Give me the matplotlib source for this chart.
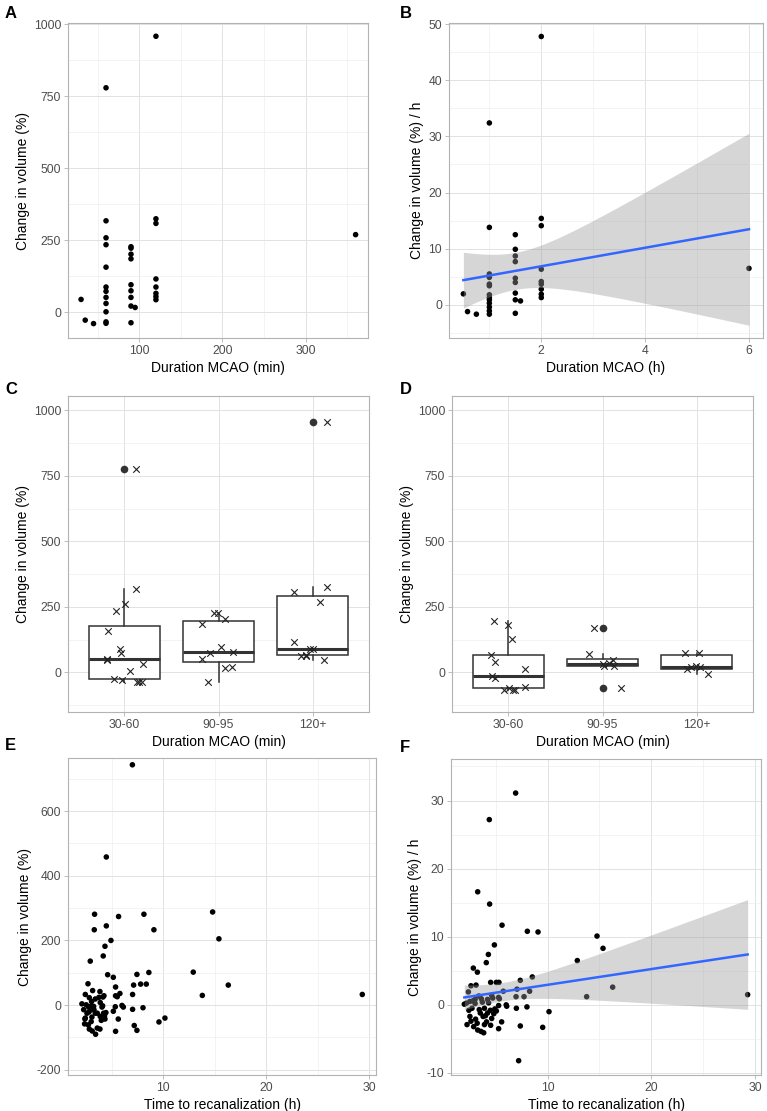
import numpy as np
import matplotlib
matplotlib.use("Agg")
import matplotlib.pyplot as plt
from matplotlib.ticker import MultipleLocator, FixedLocator

plt.rcParams['font.family'] = ['Liberation Sans', 'DejaVu Sans']
plt.rcParams['axes.unicode_minus'] = False

# ---- A: change in volume (%) vs duration MCAO (min)
dur_a = [30, 35, 45] + [60] * 12 + [90] * 9 + [95] + [120] * 8 + [360]
chg_a = [44, -28, -40,
         779, 317, 258, 234, 156, 87, 72, 51, 30, 1, -34, -39,
         227, 222, 201, 185, 95, 74, 51, 21, -37,
         16,
         958, 324, 308, 115, 87, 65, 54, 43,
         269]

# ---- B: change in volume (%) / h vs duration MCAO (h)
dur_b = [0.5, 0.58, 0.75] + [1.0] * 13 + [1.5] * 9 + [1.6] + [2.0] * 9 + [6.0]
chg_b = [1.96, -1.2, -1.66,
         32.4, 13.8, 5.5, 4.9, 3.7, 3.4, 1.8, 1.3, 0.9, 0.3, -0.4, -1.07, -1.66,
         12.5, 9.9, 8.7, 7.7, 4.75, 4.0, 2.1, 0.9, -1.5,
         0.7,
         47.8, 15.4, 14.1, 6.35, 4.15, 3.7, 2.8, 1.9, 1.3,
         6.5]

# ---- C / D: grouped boxplots
groups = ['30-60', '90-95', '120+']
c_values = [[777, 317, 259, 235, 158, 90, 74, 53, 46, 33, 4, -27, -28, -37, -36, -38],
            [228, 225, 202, 186, 97, 75, 77, 53, 16, 20, -36],
            [955, 326, 308, 270, 117, 89, 89, 61, 67, 46, 61]]
c_q1 = [-27, 38, 65]
c_med = [50, 77, 90]
c_q3 = [177, 195, 290]
c_lo = [-38, -36, 46]
c_hi = [317, 228, 324]
c_out = [[777], [], [955]]

d_values = [[196, 181, 127, 65, 39, 14, -14, -23, -57, -66, -66, -60, -68],
            [171, 69, 48, 36, 32, 23, 25, -58],
            [75, 75, 24, 22, 22, 14, -5]]
d_q1 = [-60, 24, 14]
d_med = [-15, 32, 22]
d_q3 = [65, 52, 65]
d_lo = [-68, 23, -5]
d_hi = [196, 69, 75]
d_out = [[], [171, -58], []]

# ---- E: change in volume (%) vs time to recanalization (h)
rec_e = [7.0, 4.47, 3.33, 3.30, 4.47, 5.66, 8.12, 9.09, 14.79, 15.4, 4.92, 4.34, 4.17, 2.91,
         4.6, 5.15, 7.44, 8.6, 12.91, 13.79, 16.31, 29.32, 7.12, 7.8, 8.35, 7.02, 5.37, 5.37,
         5.79, 5.53, 5.99, 6.12, 5.34, 5.15, 5.63, 5.37, 7.02, 8.03, 7.18, 7.44, 9.58, 10.16,
         2.69, 3.14, 3.85, 2.43, 4.14, 2.82, 3.4, 3.04, 3.88, 2.1, 2.52, 2.75, 3.24, 4.05,
         2.27, 3.07, 2.59, 3.4, 4.2, 2.43, 3.07, 3.88, 4.3, 4.43, 4.34, 3.98, 2.36, 2.72,
         3.0, 2.82, 3.1, 3.43, 3.59, 3.85, 4.24, 3.75, 2.94, 3.27, 2.79, 4.11, 3.59, 2.39]
chg_e = [743, 458, 281, 233, 245, 274, 281, 233, 288, 205, 200, 182, 152, 136,
         94, 86, 95, 101, 102, 30, 62, 33, 62, 65, 65, 33, 56, 29,
         36, 26, -1, -6, -5, -19, -43, -81, -13, -8, -63, -78, -52, -40,
         66, 45, 42, 33, 25, 23, 19, 11, 8, 4, 1, -6, -4, -6,
         -14, -14, -25, -25, -25, -40, -37, -35, -33, -23, -43, -47, -58, -61,
         -51, -74, -80, -90, -71, -74, 29, 24, -4, -14, -21, -2, -25, -43]

# ---- F: change in volume (%) / h vs time to recanalization (h)
rec_f = [6.91, 4.37, 3.25, 4.4, 5.6, 8.04, 9.07, 14.76, 15.34, 4.86, 4.28, 4.08, 2.83, 3.22,
         12.86, 4.5, 5.05, 5.3, 7.36, 8.52, 2.35, 2.6, 3.09, 5.72, 7.04, 8.26, 6.95, 7.72,
         13.76, 16.27, 29.29, 5.27, 5.34, 1.96, 6.0, 6.05, 5.27, 5.05, 6.98, 8.0, 5.56, 5.27,
         7.36, 9.52, 10.13, 7.2,
         2.16, 2.5, 3.0, 3.6, 4.2, 4.7, 2.7, 3.4, 3.9, 4.47, 4.9, 2.5, 3.05, 3.77, 4.2, 4.8,
         2.22, 2.86, 3.25, 3.9, 3.2, 3.57, 3.83, 4.6, 4.5, 3.0, 3.5, 4.0, 2.8, 4.3, 2.4, 3.7,
         4.1, 2.6, 3.35, 4.6]
chg_f = [31.1, 27.2, 16.6, 14.8, 11.7, 10.8, 10.7, 10.1, 8.3, 8.8, 7.4, 6.2, 5.4, 4.8,
         6.5, 3.3, 3.3, 3.3, 3.6, 4.1, 1.9, 2.8, 2.9, 2.0, 2.3, 2.0, 1.2, 1.2,
         1.2, 2.6, 1.5, 1.1, 0.9, 0.1, 0.0, -0.2, -0.1, -0.9, -0.5, -0.3, -2.5, -3.5,
         -3.1, -3.3, -1.0, -8.2,
         0.25, 0.5, 0.8, 0.9, 0.8, 1.0, -0.5, -0.7, -0.5, -0.8, -0.6, -1.7, -2.1, -1.7, -1.2, -1.3,
         -2.9, -3.2, -3.7, -2.9, -2.7, -3.9, -4.1, -2.0, -3.0, 0.2, -1.2, -1.6, 0.6, 0.3, -0.8, 0.4,
         -2.5, -2.4, 1.3, 1.4]

W, H = 767, 1111
fig = plt.figure(figsize=(W / 100, H / 100), dpi=100)
fig.patch.set_facecolor('white')


def new_axes(l, r, t, b):
    return fig.add_axes([l / W, 1 - b / H, (r - l) / W, (b - t) / H])


def style(ax, xmaj=None, xmin=None, ymaj=None, ymin=None):
    for s in ax.spines.values():
        s.set_color('#b3b3b3')
        s.set_linewidth(0.8)
    if xmaj is not None:
        ax.xaxis.set_major_locator(MultipleLocator(xmaj))
        ax.xaxis.set_minor_locator(MultipleLocator(xmin))
    if ymaj is not None:
        ax.yaxis.set_major_locator(MultipleLocator(ymaj))
        ax.yaxis.set_minor_locator(MultipleLocator(ymin))
    ax.grid(True, which='major', color='#e2e2e2', lw=0.7)
    ax.grid(True, which='minor', color='#efefef', lw=0.5)
    ax.set_axisbelow(True)
    ax.tick_params(which='major', length=3, width=0.6, color='#b3b3b3',
                   labelsize=8.8, labelcolor='#4d4d4d', pad=2)
    ax.tick_params(which='minor', length=0)


def dots(ax, x, y):
    ax.scatter(x, y, s=16, c='black', edgecolors='none', zorder=2)


def add_fit(ax, x, y, t975):
    # lm smoother with 95% confidence band
    x = np.asarray(x, float)
    y = np.asarray(y, float)
    n = len(x)
    b1, b0 = np.polyfit(x, y, 1)
    s = np.sqrt(np.sum((y - (b0 + b1 * x)) ** 2) / (n - 2))
    xs = np.linspace(x.min(), x.max(), 80)
    fit = b0 + b1 * xs
    se = s * np.sqrt(1 / n + (xs - x.mean()) ** 2 / np.sum((x - x.mean()) ** 2))
    ax.fill_between(xs, fit - t975 * se, fit + t975 * se, color='#999999',
                    alpha=0.4, lw=0, zorder=3)
    ax.plot(xs, fit, color='#3366ff', lw=1.8, zorder=4)


def boxes(ax, vals, q1, med, q3, lo, hi, out, seed):
    stats = [dict(q1=q1[i], med=med[i], q3=q3[i], whislo=lo[i], whishi=hi[i],
                  fliers=out[i]) for i in range(len(q1))]
    ax.bxp(stats, positions=[1, 2, 3], widths=0.75, patch_artist=True, showcaps=False,
           boxprops=dict(facecolor='white', edgecolor='#333333', lw=1.1),
           medianprops=dict(color='#333333', lw=2.2),
           whiskerprops=dict(color='#333333', lw=1.1),
           flierprops=dict(marker='o', markerfacecolor='#333333',
                           markeredgecolor='none', markersize=5.5))
    rng = np.random.default_rng(seed)
    for i, v in enumerate(vals):
        xs = i + 1 + rng.uniform(-0.2, 0.2, len(v))
        ax.scatter(xs, v, marker='x', s=22, c='#222222', lw=0.8, zorder=5)
    ax.set_xlim(0.4, 3.6)
    ax.set_ylim(-151, 1054)
    ax.xaxis.set_major_locator(FixedLocator([1, 2, 3]))
    ax.set_xticklabels(groups)
    ax.yaxis.set_major_locator(MultipleLocator(250))
    ax.yaxis.set_minor_locator(MultipleLocator(125))
    ax.xaxis.grid(True, which='major', color='#e2e2e2', lw=0.7)
    ax.yaxis.grid(True, which='major', color='#e2e2e2', lw=0.7)
    ax.yaxis.grid(True, which='minor', color='#efefef', lw=0.5)


lab = dict(fontsize=10, labelpad=3)

# A
ax = new_axes(68, 368, 23, 338)
style(ax, 100, 50, 250, 125)
dots(ax, dur_a, chg_a)
ax.set_xlim(14.3, 374.9)
ax.set_ylim(-90, 1004)
ax.set_xlabel('Duration MCAO (min)', **lab)
ax.set_ylabel('Change in volume (%)', **lab)

# B
ax = new_axes(449, 763, 23, 338)
style(ax, 2, 1, 10, 5)
dots(ax, dur_b, chg_b)
add_fit(ax, dur_b, chg_b, 2.03)
ax.set_xlim(0.223, 6.27)
ax.set_ylim(-5.9, 50.2)
ax.set_xlabel('Duration MCAO (h)', **lab)
ax.set_ylabel('Change in volume (%) / h', **lab)

# C
ax = new_axes(68, 369, 396, 712)
style(ax)
boxes(ax, c_values, c_q1, c_med, c_q3, c_lo, c_hi, c_out, 5)
ax.set_xlabel('Duration MCAO (min)', **lab)
ax.set_ylabel('Change in volume (%)', **lab)

# D
ax = new_axes(452, 753, 396, 712)
style(ax)
boxes(ax, d_values, d_q1, d_med, d_q3, d_lo, d_hi, d_out, 11)
ax.set_xlabel('Duration MCAO (min)', **lab)
ax.set_ylabel('Change in volume (%)', **lab)

# E
ax = new_axes(68, 376, 758, 1075)
style(ax, 10, 5, 200, 100)
dots(ax, rec_e, chg_e)
ax.set_xlim(0.75, 30.65)
ax.set_ylim(-216, 764)
ax.set_xlabel('Time to recanalization (h)', **lab)
ax.set_ylabel('Change in volume (%)', **lab)

# F
ax = new_axes(451, 761, 759, 1075)
style(ax, 10, 5, 10, 5)
dots(ax, rec_f, chg_f)
add_fit(ax, rec_f, chg_f, 1.99)
ax.set_xlim(0.675, 30.58)
ax.set_ylim(-10.3, 36.1)
ax.set_xlabel('Time to recanalization (h)', **lab)
ax.set_ylabel('Change in volume (%) / h', **lab)

for letter, px, py in [('A', 5, 13), ('B', 400, 13), ('C', 5, 389),
                       ('D', 400, 389), ('E', 5, 746), ('F', 400, 748)]:
    fig.text(px / W, 1 - py / H, letter, fontsize=12, fontweight='bold',
             ha='left', va='center')

fig.savefig('out.png', dpi=100)
